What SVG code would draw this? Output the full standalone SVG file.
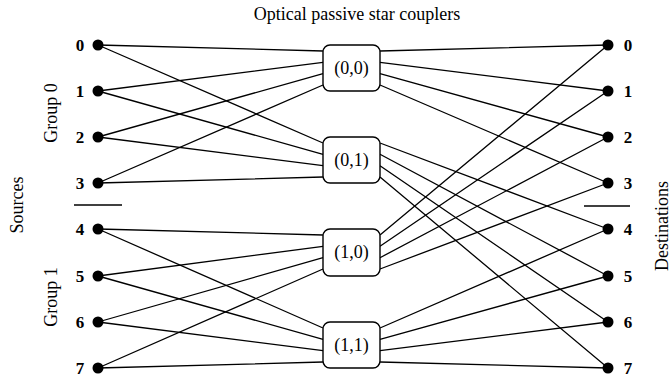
<svg xmlns="http://www.w3.org/2000/svg" width="671" height="377" viewBox="0 0 671 377">
<style>
text{font-family:"Liberation Serif","Times New Roman",serif;fill:#000}
.num{font-size:17px;font-weight:bold;text-anchor:middle}
.lbl{font-size:18px;text-anchor:middle}
.box{fill:#fff;stroke:#000;stroke-width:1.4}
.cn{stroke:#000;stroke-width:1.3;fill:none}
.dot{fill:#000}
</style>
<rect width="671" height="377" fill="#fff"/>
<text class="lbl" x="357" y="20">Optical passive star couplers</text>
<text class="lbl" transform="translate(23,205) rotate(-90)">Sources</text>
<text class="lbl" transform="translate(668,226) rotate(-90)">Destinations</text>
<text class="lbl" transform="translate(57,113) rotate(-90)">Group 0</text>
<text class="lbl" transform="translate(57,297) rotate(-90)">Group 1</text>
<line class="cn" x1="74" y1="205" x2="122" y2="205"/>
<line class="cn" x1="584" y1="206" x2="630" y2="206"/>
<g id="connectors" class="cn">
<path d="M98 45L323 51M98 45L323 143"/>
<path d="M98 91L323 62.3M98 91L323 154.3"/>
<path d="M98 137L323 73.7M98 137L323 165.7"/>
<path d="M98 183L323 85M98 183L323 177"/>
<path d="M98 229L323 235M98 229L323 328"/>
<path d="M98 276L323 246.3M98 276L323 339.3"/>
<path d="M98 322L323 257.7M98 322L323 350.7"/>
<path d="M98 368L323 269M98 368L323 362"/>
<path d="M380 51L608 45M380 62.3L608 91M380 73.7L608 137M380 85L608 183"/>
<path d="M380 235L608 45M380 246.3L608 91M380 257.7L608 137M380 269L608 183"/>
<path d="M380 143L608 229M380 154.3L608 276M380 165.7L608 322M380 177L608 368"/>
<path d="M380 328L608 229M380 339.3L608 276M380 350.7L608 322M380 362L608 368"/>
</g>
<g id="coupler-0-0"><rect class="box" x="323" y="45" width="57" height="46" rx="7"/><text class="lbl" x="351.5" y="74">(0,0)</text></g>
<g id="coupler-0-1"><rect class="box" x="323" y="137" width="57" height="46" rx="7"/><text class="lbl" x="351.5" y="166">(0,1)</text></g>
<g id="coupler-1-0"><rect class="box" x="323" y="229" width="57" height="47" rx="7"/><text class="lbl" x="351.5" y="258">(1,0)</text></g>
<g id="coupler-1-1"><rect class="box" x="323" y="322" width="57" height="46" rx="7"/><text class="lbl" x="351.5" y="351">(1,1)</text></g>
<g id="src0"><circle class="dot" cx="98" cy="45" r="5.5"/><text class="num" x="80" y="51">0</text></g>
<g id="src1"><circle class="dot" cx="98" cy="91" r="5.5"/><text class="num" x="80" y="97">1</text></g>
<g id="src2"><circle class="dot" cx="98" cy="137" r="5.5"/><text class="num" x="80" y="143">2</text></g>
<g id="src3"><circle class="dot" cx="98" cy="183" r="5.5"/><text class="num" x="80" y="189">3</text></g>
<g id="src4"><circle class="dot" cx="98" cy="229" r="5.5"/><text class="num" x="80" y="235">4</text></g>
<g id="src5"><circle class="dot" cx="98" cy="276" r="5.5"/><text class="num" x="80" y="282">5</text></g>
<g id="src6"><circle class="dot" cx="98" cy="322" r="5.5"/><text class="num" x="80" y="328">6</text></g>
<g id="src7"><circle class="dot" cx="98" cy="368" r="5.5"/><text class="num" x="80" y="374">7</text></g>
<g id="dst0"><circle class="dot" cx="608" cy="45" r="5.5"/><text class="num" x="628" y="51">0</text></g>
<g id="dst1"><circle class="dot" cx="608" cy="91" r="5.5"/><text class="num" x="628" y="97">1</text></g>
<g id="dst2"><circle class="dot" cx="608" cy="137" r="5.5"/><text class="num" x="628" y="143">2</text></g>
<g id="dst3"><circle class="dot" cx="608" cy="183" r="5.5"/><text class="num" x="628" y="189">3</text></g>
<g id="dst4"><circle class="dot" cx="608" cy="229" r="5.5"/><text class="num" x="628" y="235">4</text></g>
<g id="dst5"><circle class="dot" cx="608" cy="276" r="5.5"/><text class="num" x="628" y="282">5</text></g>
<g id="dst6"><circle class="dot" cx="608" cy="322" r="5.5"/><text class="num" x="628" y="328">6</text></g>
<g id="dst7"><circle class="dot" cx="608" cy="368" r="5.5"/><text class="num" x="628" y="374">7</text></g>
</svg>
